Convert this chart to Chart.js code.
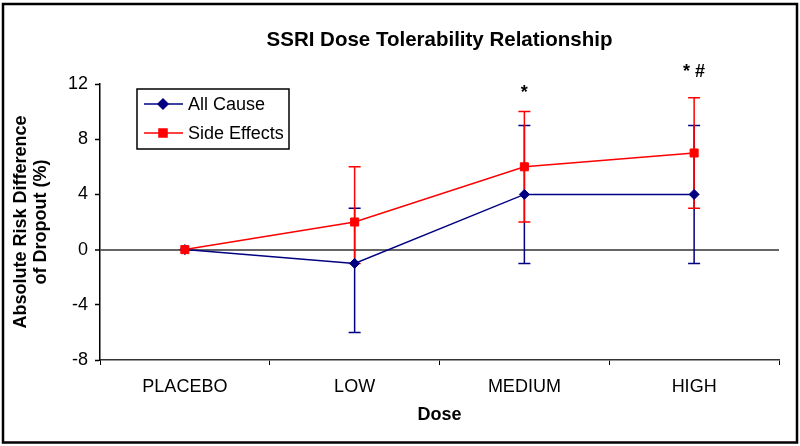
<!DOCTYPE html>
<html>
<head>
<meta charset="utf-8">
<script src="https://cdn.jsdelivr.net/npm/chart.js@4.4.1/dist/chart.umd.min.js"></script>
<style>
    body { margin: 0; background: #fff; }
    canvas { display: block; }
</style>
</head>
<body>
<canvas id="my-chart" width="800" height="446"></canvas>
<script>
// * SSRI dose vs dropout risk, with error bars drawn by a small plugin

const doses = ['PLACEBO', 'LOW', 'MEDIUM', 'HIGH']
const allCause = [0, -1, 4, 4]
const allCauseLow = [0, -6, -1, -1]
const allCauseHigh = [0, 3, 9, 9]
const sideEffects = [0, 2, 6, 7]
const sideEffectsLow = [0, -1, 2, 3]
const sideEffectsHigh = [0, 6, 10, 11]
const marks = ['', '', '*', '* #']
const markLevel = [null, null, 11, 12.5]
const yMin = -8
const yMax = 12
const yStep = 4

const BLUE = '#000080'
const RED = '#ff0000'
const FONT = "'Liberation Sans', Arial, sans-serif"
Chart.defaults.font.family = FONT
Chart.defaults.color = '#000'

const ctx = document.getElementById('my-chart')

// error bars go under the lines and markers
const errorBars = {
    id: 'errorBars',
    beforeDatasetsDraw(chart) {
        const c = chart.ctx
        const x = chart.scales.x
        const y = chart.scales.y
        const sets = [
            { low: allCauseLow, high: allCauseHigh, color: BLUE },
            { low: sideEffectsLow, high: sideEffectsHigh, color: RED }
        ]
        c.save()
        c.lineWidth = 1.5
        sets.forEach((s) => {
            c.strokeStyle = s.color
            for (let i = 0; i < doses.length; i++) {
                if (s.low[i] === s.high[i]) continue
                const px = x.getPixelForValue(i)
                const y1 = y.getPixelForValue(s.low[i])
                const y2 = y.getPixelForValue(s.high[i])
                c.beginPath()
                c.moveTo(px, y1)
                c.lineTo(px, y2)
                c.moveTo(px - 6, y1)
                c.lineTo(px + 6, y1)
                c.moveTo(px - 6, y2)
                c.lineTo(px + 6, y2)
                c.stroke()
            }
        })
        c.restore()
    },
    afterDraw(chart) {
        const c = chart.ctx
        const x = chart.scales.x
        const y = chart.scales.y
        c.save()
        // significance marks
        c.font = 'bold 18px ' + FONT
        c.fillStyle = '#000'
        c.textAlign = 'center'
        c.textBaseline = 'alphabetic'
        for (let i = 0; i < doses.length; i++) {
            if (!marks[i]) continue
            c.fillText(marks[i], x.getPixelForValue(i), y.getPixelForValue(markLevel[i]))
        }

        // legend box
        c.fillStyle = '#fff'
        c.fillRect(137, 89, 152, 60)
        c.strokeStyle = '#000'
        c.lineWidth = 1.5
        c.strokeRect(137, 89, 152, 60)
        const entries = [
            { label: 'All Cause', color: BLUE, style: 'rectRot', r: 5 },
            { label: 'Side Effects', color: RED, style: 'rect', r: 5.7 }
        ]
        c.font = '18px ' + FONT
        c.textAlign = 'left'
        c.textBaseline = 'middle'
        entries.forEach((e, k) => {
            const ly = 104 + k * 29
            c.strokeStyle = e.color
            c.lineWidth = 1.5
            c.beginPath()
            c.moveTo(144, ly)
            c.lineTo(183, ly)
            c.stroke()
            c.fillStyle = e.color
            Chart.helpers.drawPoint(c, { pointStyle: e.style, radius: e.r, borderWidth: 1 }, 163, ly)
            c.fill()
            c.fillStyle = '#000'
            c.fillText(e.label, 188, ly + 1)
        })

        // outer frame
        c.strokeStyle = '#000'
        c.lineWidth = 2.5
        c.strokeRect(3, 4, 794, 438.5)
        c.restore()
    }
}

new Chart(ctx, {
    type: 'line',
    data: {
        labels: doses,
        datasets: [
            {
                label: 'All Cause',
                data: allCause,
                borderColor: BLUE,
                backgroundColor: BLUE,
                borderWidth: 1.5,
                pointStyle: 'rectRot',
                pointRadius: 5,
                pointBorderWidth: 1,
                order: 2
            },
            {
                label: 'Side Effects',
                data: sideEffects,
                borderColor: RED,
                backgroundColor: RED,
                borderWidth: 1.5,
                pointStyle: 'rect',
                pointRadius: 5.7,
                pointBorderWidth: 1,
                order: 1
            }
        ]
    },
    options: {
        responsive: false,
        animation: false,
        devicePixelRatio: 1,
        layout: { padding: { left: 0, right: 21, top: 0, bottom: 0 } },
        plugins: {
            legend: { display: false },
            tooltip: { enabled: false },
            title: {
                display: true,
                text: 'SSRI Dose Tolerability Relationship',
                fullSize: false,
                font: { size: 20.5, weight: 'bold', lineHeight: 1.2 },
                padding: { top: 28, bottom: 31.4 },
                color: '#000'
            }
        },
        scales: {
            x: {
                offset: true,
                afterFit(scale) {
                    scale.height = 86
                },
                grid: {
                    offset: true,
                    drawOnChartArea: false,
                    drawTicks: true,
                    tickLength: 5,
                    color: '#000'
                },
                border: { color: '#333', width: 1.5 },
                ticks: { font: { size: 18 }, padding: 11, color: '#000' },
                title: {
                    display: true,
                    text: 'Dose',
                    font: { size: 18, weight: 'bold' },
                    padding: { top: 0, bottom: 20 },
                    color: '#000'
                }
            },
            y: {
                min: yMin,
                max: yMax,
                afterFit(scale) {
                    scale.width = 100
                },
                ticks: { stepSize: yStep, font: { size: 18 }, padding: 7, color: '#000' },
                grid: {
                    color: (c) => (c.tick && c.tick.value === 0 ? '#666' : 'rgba(0,0,0,0)'),
                    lineWidth: (c) => (c.tick && c.tick.value === 0 ? 2 : 1),
                    tickColor: '#000',
                    tickWidth: 1.5,
                    tickLength: 5
                },
                border: { color: '#000', width: 1.5 },
                title: {
                    display: true,
                    text: ['Absolute Risk Difference', 'of Dropout (%)'],
                    font: { size: 18, weight: 'bold', lineHeight: 1.1 },
                    padding: { top: 11, bottom: 0 },
                    color: '#000'
                }
            }
        }
    },
    plugins: [errorBars]
})
</script>
</body>
</html>
